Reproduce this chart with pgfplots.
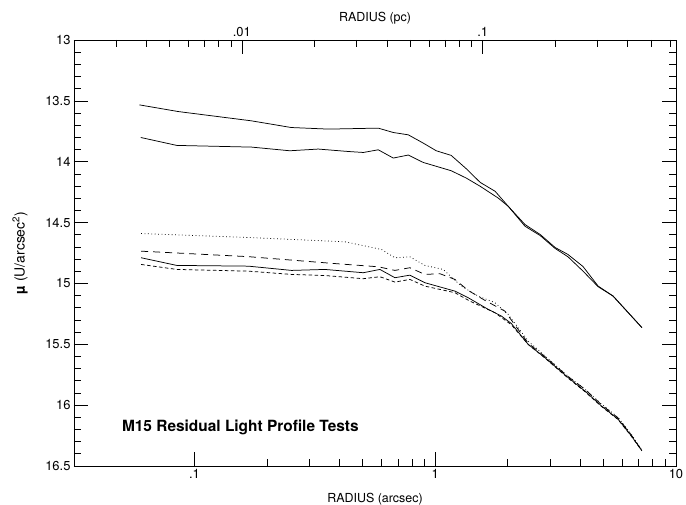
\documentclass[border=0pt]{standalone}
\usepackage{fontspec}
\setmainfont{TeX Gyre Heros}
\usepackage{pgfplots}
\pgfplotsset{compat=1.18}

\begin{document}
\begin{tikzpicture}
\useasboundingbox (-74bp,-39bp) rectangle (612bp,466bp);
\pgfplotsset{
  common/.style={
    width=602bp, height=426bp, scale only axis,
    at={(0,0)}, anchor=south west,
    tick align=inside,
    major tick length=14bp, minor tick length=7bp,
    every tick/.style={black, line width=0.7pt},
    tick label style={font=\fontsize{13}{15}\selectfont},
    label style={font=\fontsize{12.5}{14}\selectfont},
    /pgf/number format/assume math mode=true,
  },
}
% main axis: radius in arcsec
\begin{axis}[common,
  xmode=log, xmin=0.0316228, xmax=10,
  ymin=13, ymax=16.5, y dir=reverse,
  xtick={0.1,1,10}, xticklabels={.1,1,10},
  xtick pos=bottom,
  ytick={13,13.5,14,14.5,15,15.5,16,16.5},
  yticklabels={13,13.5,14,14.5,15,15.5,16,16.5},
  minor ytick={13.1,13.2,...,16.45},
  ytick pos=both,
  axis line style={line width=0.8pt},
  xlabel={RADIUS (arcsec)},
  xlabel style={at={(axis description cs:0.5,-0.0845)}, anchor=base},
  ylabel={{\bfseries µ} (U/arcsec\textsuperscript{2})},
  ylabel style={at={(axis description cs:-0.0897,0.5)}, anchor=center,
    font=\fontsize{14}{16}\selectfont},
]
% upper solid profile
\addplot[black, line width=0.75pt] coordinates {
(0.0591,13.533) (0.0858,13.588) (0.1725,13.664) (0.2525,13.719) (0.360,13.732)
(0.580,13.724) (0.670,13.760) (0.773,13.779) (0.892,13.847) (1.01,13.910)
(1.165,13.948) (1.345,14.057) (1.538,14.170) (1.774,14.243) (2.01,14.366)
(2.36,14.516) (2.73,14.598) (3.15,14.705) (3.56,14.762) (4.11,14.861)
(4.75,15.022) (5.48,15.104) (7.22,15.363)
};
% second solid profile
\addplot[black, line width=0.75pt] coordinates {
(0.0599,13.801) (0.0845,13.866) (0.173,13.880) (0.249,13.910) (0.327,13.896)
(0.4355,13.916) (0.503,13.924) (0.580,13.902) (0.670,13.970) (0.773,13.945)
(0.892,14.006) (1.165,14.074) (1.345,14.134) (1.538,14.202) (1.825,14.298)
(2.01,14.366) (2.36,14.530) (2.73,14.607) (3.15,14.713) (3.56,14.781)
(4.11,14.899) (4.75,15.027) (5.48,15.104) (7.22,15.363)
};
% dotted
\addplot[black, line width=0.75pt, dash pattern=on 0.8bp off 2.6bp] coordinates {
(0.0601,14.590) (0.17,14.623) (0.4218,14.658) (0.5987,14.721) (0.6804,14.789)
(0.785,14.781) (0.906,14.852) (1.079,14.885) (1.285,15.022) (1.508,15.104)
(1.769,15.158) (2.009,15.254) (2.431,15.473) (2.852,15.595) (3.564,15.762)
(4.18,15.868) (4.898,15.990) (5.744,16.100) (6.524,16.240) (7.22,16.370)
};
% long dashed
\addplot[black, line width=0.75pt, dash pattern=on 7bp off 5bp] coordinates {
(0.0601,14.735) (0.1675,14.780) (0.396,14.839) (0.580,14.863) (0.6804,14.893)
(0.785,14.871) (0.906,14.926) (1.046,14.920) (1.207,14.967) (1.370,15.057)
(1.608,15.139) (1.946,15.227) (2.431,15.490) (2.852,15.600) (3.564,15.765)
(4.18,15.868) (4.898,15.995) (5.744,16.105) (6.524,16.245) (7.22,16.375)
};
% solid
\addplot[black, line width=0.75pt] coordinates {
(0.0601,14.789) (0.0845,14.852) (0.1675,14.858) (0.2533,14.893) (0.3485,14.885)
(0.5027,14.912) (0.5895,14.885) (0.6804,14.953) (0.785,14.932) (0.906,14.994)
(1.207,15.063) (1.370,15.117) (1.66,15.213) (1.884,15.268) (2.073,15.330)
(2.431,15.500) (2.852,15.609) (3.564,15.773) (4.18,15.883) (4.898,16.006)
(5.744,16.115) (6.524,16.252) (7.22,16.375)
};
% short dashed
\addplot[black, line width=0.75pt, dash pattern=on 3.5bp off 2.5bp] coordinates {
(0.0601,14.844) (0.0845,14.885) (0.1675,14.899) (0.2533,14.926) (0.3485,14.935)
(0.5027,14.961) (0.5895,14.945) (0.6804,14.989) (0.785,14.967) (0.906,15.022)
(1.207,15.076) (1.393,15.145) (1.769,15.240) (2.073,15.340) (2.431,15.500)
(2.852,15.612) (3.564,15.778) (4.18,15.888) (4.898,16.010) (5.744,16.118)
(6.524,16.255) (7.22,16.375)
};
\node[anchor=base west, font=\fontsize{15.5}{17}\selectfont\bfseries]
  at (axis cs:0.0484,16.22) {M15 Residual Light Profile Tests};
\end{axis}
% top axis: radius in pc
\begin{axis}[common,
  xmode=log, xmin=0.002008, xmax=0.635,
  ymin=0, ymax=1,
  axis x line*=top, hide y axis,
  axis line style={line width=0.8pt},
  xtick={0.01,0.1}, xticklabels={.01,.1},
  minor xtick={0.003,0.004,0.005,0.006,0.007,0.008,0.009,
    0.02,0.03,0.04,0.05,0.06,0.07,0.08,0.09,0.2,0.3,0.4,0.5,0.6},
  xlabel={RADIUS (pc)},
  xlabel style={at={(axis description cs:0.5,1.0423)}, anchor=base},
]
\end{axis}
\end{tikzpicture}
\end{document}
